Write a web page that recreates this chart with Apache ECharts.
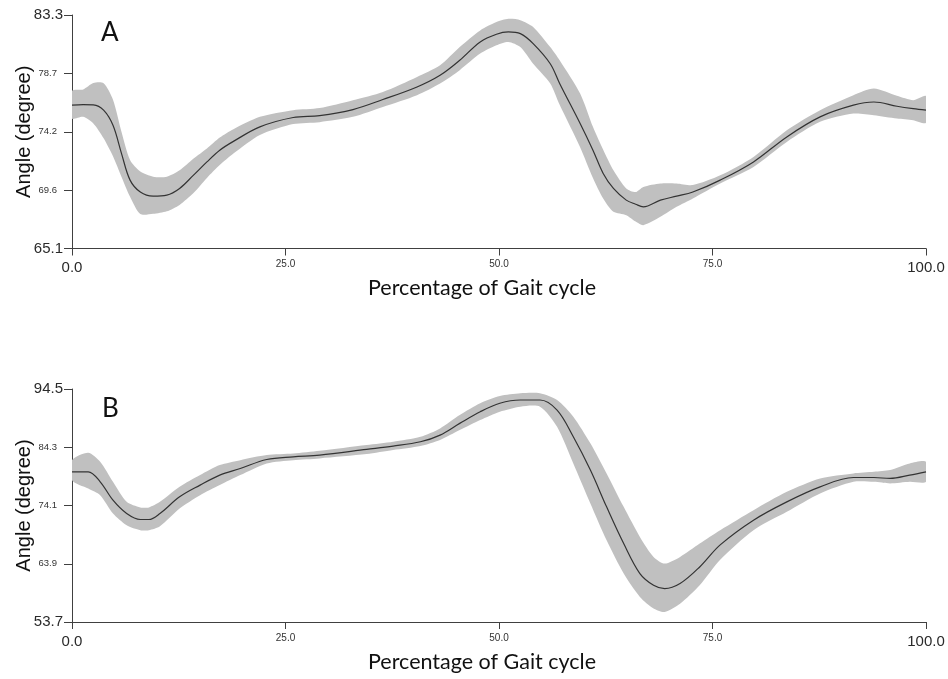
<!DOCTYPE html>
<html>
<head>
<meta charset="utf-8">
<script src="https://cdn.jsdelivr.net/npm/echarts@6/dist/echarts.min.js"></script>
<style>
  html, body { margin: 0; padding: 0; background: #ffffff; }
  #chart { width: 948px; height: 679px; }
</style>
</head>
<body>
<div id="chart"></div>
<script>
// Panel A: gait cycle (%), mean angle and the band limits (degree)
const gaitA = [0, 1.3, 2.5, 3.7, 4.8, 5.8, 6.8, 8.0, 9.5, 11.1, 12.6, 14.2, 15.8, 17.3, 18.9, 22.0, 25.9, 29.0, 32.9, 36.4, 40.4, 43.1, 45.4, 47.8, 49.7, 51.1, 52.5, 54.0, 56.0, 57.1, 59.5, 61.0, 62.2, 63.4, 64.9, 66.0, 66.9, 68.9, 70.8, 72.7, 75.9, 79.8, 83.7, 87.6, 91.5, 93.9, 96.6, 98.5, 100];
const meanA = [76.27, 76.32, 76.3, 75.88, 74.7, 72.5, 70.43, 69.5, 69.18, 69.26, 69.78, 70.8, 71.85, 72.76, 73.45, 74.58, 75.31, 75.45, 75.93, 76.71, 77.69, 78.6, 79.77, 81.2, 81.8, 81.98, 81.85, 81.07, 79.5, 77.96, 74.84, 72.76, 70.95, 69.78, 68.87, 68.55, 68.35, 68.87, 69.18, 69.5, 70.43, 71.85, 73.8, 75.36, 76.27, 76.52, 76.19, 76.0, 75.88];
const lowerA = [75.23, 75.36, 74.85, 73.7, 72.3, 70.68, 69.13, 67.78, 67.8, 68.0, 68.5, 69.4, 70.6, 71.6, 72.5, 73.95, 74.8, 74.95, 75.36, 76.13, 77.05, 77.96, 79.0, 80.29, 80.94, 81.2, 80.8, 79.5, 77.96, 76.3, 73.0, 70.6, 69.0, 67.96, 67.7, 67.2, 66.92, 67.57, 68.35, 69.0, 70.17, 71.46, 73.4, 74.97, 75.62, 75.49, 75.23, 75.1, 74.9];
const upperA = [77.38, 77.5, 78.0, 77.98, 76.7, 74.19, 72.0, 71.1, 70.7, 70.7, 71.2, 72.1, 72.9, 73.75, 74.4, 75.36, 75.88, 76.05, 76.66, 77.3, 78.47, 79.38, 80.8, 82.1, 82.75, 83.0, 82.9, 82.37, 80.8, 79.77, 77.18, 74.58, 72.8, 71.2, 69.78, 69.5, 69.9, 70.17, 70.17, 70.04, 70.8, 72.24, 74.32, 75.88, 77.05, 77.57, 77.0, 76.66, 76.97];

// Panel B
const gaitB = [0, 1.9, 3.3, 4.8, 6.4, 8.0, 9.0, 10.3, 12.6, 15.0, 17.3, 19.7, 22.8, 25.9, 29.0, 34.5, 37.6, 40.8, 43.1, 45.4, 47.8, 50.1, 52.5, 54.8, 56.8, 58.7, 60.7, 62.6, 64.6, 66.5, 68.1, 69.4, 71.2, 73.5, 75.9, 79.8, 83.7, 87.6, 91.5, 93.9, 95.8, 98.1, 100];
const meanB = [80.0, 80.0, 78.25, 75.03, 72.7, 71.65, 71.65, 72.7, 75.62, 77.67, 79.42, 80.58, 82.16, 82.63, 82.93, 83.93, 84.5, 85.26, 86.43, 88.48, 90.52, 92.0, 92.57, 92.57, 90.8, 86.14, 80.3, 73.86, 67.44, 62.18, 60.13, 59.55, 60.43, 63.34, 67.2, 71.53, 74.74, 77.37, 79.0, 79.0, 78.84, 79.42, 80.0];
const lowerB = [78.54, 77.08, 75.91, 72.7, 70.65, 69.78, 69.78, 70.48, 73.58, 75.91, 77.67, 79.42, 81.47, 82.04, 82.35, 83.1, 83.8, 84.5, 85.56, 87.3, 89.06, 90.52, 91.4, 91.4, 87.89, 81.47, 74.46, 68.0, 62.18, 58.08, 56.05, 55.45, 56.9, 60.13, 64.6, 69.78, 72.99, 76.2, 78.24, 78.24, 77.96, 78.24, 78.24];
const upperB = [82.04, 83.33, 81.75, 78.25, 74.74, 73.76, 73.76, 74.74, 77.37, 79.42, 81.17, 82.04, 82.93, 83.2, 83.68, 84.68, 85.26, 86.14, 87.6, 89.94, 92.0, 93.27, 93.75, 93.75, 92.57, 89.65, 84.98, 79.72, 73.86, 68.6, 65.1, 63.94, 65.1, 67.44, 69.78, 73.28, 76.5, 78.84, 79.72, 80.0, 80.3, 81.47, 81.75];

// Axis ticks
const xTicks = [0, 25, 50, 75, 100];
const yTicksA = ['65.1', '69.6', '74.2', '78.7', '83.3'];
const yTicksB = ['53.7', '63.9', '74.1', '84.3', '94.5'];
const panelLabels = ['A', 'B'];

const xTitle = 'Percentage of Gait cycle';
const yTitle = 'Angle (degree)';

const AXIS_COLOR = '#404040';
const BAND_COLOR = '#c0c0c0';
const LINE_COLOR = '#333333';
const SANS = 'Liberation Sans, Arial, sans-serif';

const labelRich = {
  big: { fontSize: 15, color: '#2a2a2a', fontFamily: SANS, padding: [1, 0, 0, 0] },
  small: { fontSize: 10, color: '#333333', fontFamily: SANS }
};
const yLabelRich = {
  big: { fontSize: 15, color: '#2a2a2a', fontFamily: SANS },
  small: { fontSize: 9.5, color: '#333333', fontFamily: SANS, padding: [0, 6, 0, 0] }
};

function yAxisFor(gridIndex, ticks) {
  const nums = ticks.map(Number);
  const min = nums[0], max = nums[nums.length - 1];
  return {
    type: 'value', gridIndex,
    min, max, interval: (max - min) / (nums.length - 1),
    name: yTitle, nameLocation: 'middle', nameGap: 38, nameMoveOverlap: false,
    nameTextStyle: { fontSize: 20, color: '#111', fontFamily: SANS },
    splitLine: { show: false },
    axisLine: { show: true, lineStyle: { color: AXIS_COLOR, width: 1 } },
    axisTick: { show: true, length: 8, lineStyle: { color: AXIS_COLOR } },
    axisLabel: {
      margin: 9,
      rich: yLabelRich,
      formatter: (v) => {
        let best = 0;
        nums.forEach((n, i) => { if (Math.abs(n - v) < Math.abs(nums[best] - v)) best = i; });
        const edge = best === 0 || best === nums.length - 1;
        return (edge ? '{big|' : '{small|') + ticks[best] + '}';
      }
    }
  };
}

function xAxisFor(gridIndex) {
  return {
    type: 'value', gridIndex,
    min: xTicks[0], max: xTicks[xTicks.length - 1], interval: xTicks[1] - xTicks[0],
    name: xTitle, nameLocation: 'middle', nameGap: 29, nameMoveOverlap: false,
    nameTextStyle: { fontSize: 21.5, color: '#111', fontFamily: 'Lato, Open Sans, sans-serif', padding: [0, 34, 0, 0] },
    splitLine: { show: false },
    axisLine: { show: true, onZero: false, lineStyle: { color: AXIS_COLOR, width: 1 } },
    axisTick: { show: true, length: 7, lineStyle: { color: AXIS_COLOR } },
    axisLabel: {
      margin: 11,
      rich: labelRich,
      formatter: (v) => {
        const edge = v === xTicks[0] || v === xTicks[xTicks.length - 1];
        return (edge ? '{big|' : '{small|') + v.toFixed(1) + '}';
      }
    }
  };
}

// Shaded band between lower and upper limits, drawn as one polygon
function bandSeries(idx, xs, lower, upper) {
  return {
    type: 'custom', xAxisIndex: idx, yAxisIndex: idx,
    silent: true, animation: false, clip: true, z: 2,
    encode: { x: 0, y: [1, 2] },
    data: xs.map((x, i) => [x, lower[i], upper[i]]),
    renderItem: (params, api) => {
      if (params.dataIndex !== 0) return null;
      const top = xs.map((x, i) => api.coord([x, upper[i]]));
      const bottom = xs.map((x, i) => api.coord([x, lower[i]])).reverse();
      return {
        type: 'polygon',
        shape: { points: top.concat(bottom), smooth: 0.25 },
        style: { fill: BAND_COLOR, stroke: null }
      };
    }
  };
}

function meanSeries(idx, xs, mean) {
  return {
    type: 'line', xAxisIndex: idx, yAxisIndex: idx,
    smooth: 0.35, symbol: 'none', silent: true, animation: false,
    data: xs.map((x, i) => [x, mean[i]]),
    lineStyle: { color: LINE_COLOR, width: 1.2 },
    z: 5
  };
}

const chart = echarts.init(document.getElementById('chart'), null, { renderer: 'canvas' });
chart.setOption({
  backgroundColor: '#ffffff',
  animation: false,
  title: [
    { text: panelLabels[0], left: 96, top: 15, textStyle: { fontSize: 26, fontWeight: 'normal', color: '#111', fontFamily: 'Lato, sans-serif' } },
    { text: panelLabels[1], left: 97, top: 391, textStyle: { fontSize: 26, fontWeight: 'normal', color: '#111', fontFamily: 'Lato, sans-serif' } }
  ],
  grid: [
    { left: 72, top: 15, width: 854, height: 233.5, containLabel: false, outerBoundsMode: 'none' },
    { left: 72, top: 389, width: 854, height: 233, containLabel: false, outerBoundsMode: 'none' }
  ],
  xAxis: [xAxisFor(0), xAxisFor(1)],
  yAxis: [yAxisFor(0, yTicksA), yAxisFor(1, yTicksB)],
  series: [
    bandSeries(0, gaitA, lowerA, upperA),
    meanSeries(0, gaitA, meanA),
    bandSeries(1, gaitB, lowerB, upperB),
    meanSeries(1, gaitB, meanB)
  ]
});
</script>
</body>
</html>
